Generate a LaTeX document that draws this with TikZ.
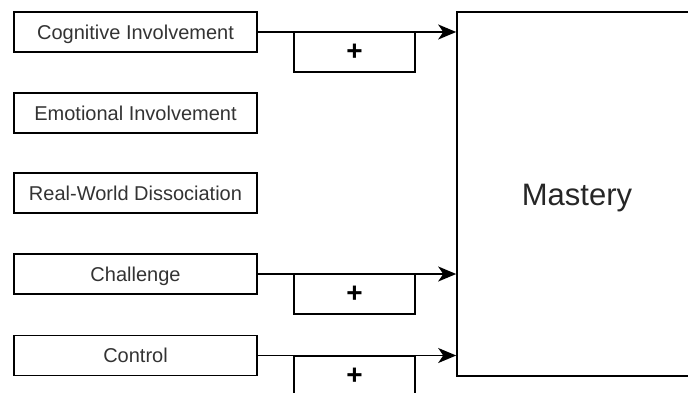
\documentclass[tikz,border=0pt]{standalone}
\usepackage{fontspec}
\setmainfont{Liberation Sans}
\usetikzlibrary{arrows.meta}
\definecolor{labelgray}{HTML}{333333}

\begin{document}
\begin{tikzpicture}[
        x = 1pt, y = -1pt,
        factor/.style = {draw, line width = 1.6pt, minimum width = 243pt, minimum height = 40pt, inner sep = 0pt,
            font = \fontsize{20}{24}\selectfont, text = labelgray, text height = 14.3pt, text depth = 0pt},
        plus/.style = {draw, line width = 1.6pt, minimum width = 121pt, minimum height = 40pt, inner sep = 0pt,
            font = \fontsize{28}{32}\selectfont\bfseries},
        outcome/.style = {draw, line width = 1.6pt, minimum width = 240pt, minimum height = 364pt, inner sep = 0pt,
            font = \fontsize{31}{36}\selectfont, text = black!85, text height = 22pt, text depth = 0pt},
        arr/.style = {draw, line width = 1.6pt, -{Stealth[length = 18pt, width = 15pt, inset = 5pt]}},
    ]
    \useasboundingbox (0, 0) rectangle (688, 393);
    \clip (0, 0) rectangle (688, 393);

    \node (M) at (577, 194) [outcome] {Mastery};

    \node (CI) at (135.5, 32) [factor] {Cognitive Involvement};
    \node (EI) at (135.5, 113) [factor] {Emotional Involvement};
    \node (RW) at (135.5, 193) [factor] {Real-World Dissociation};
    \node (CH) at (135.5, 274) [factor] {Challenge};
    \node (CO) at (135.5, 355.5) [factor] {Control};

    \node (P1) at (354.5, 52) [plus] {+};
    \node (P2) at (354.5, 294) [plus] {+};
    \node (P3) at (354.5, 376) [plus] {+};

    \path[arr] (CI.east) -- (CI.east -| M.west);
    \path[arr] (CH.east) -- (CH.east -| M.west);
    \path[arr] (CO.east) -- (CO.east -| M.west);
\end{tikzpicture}
\end{document}
